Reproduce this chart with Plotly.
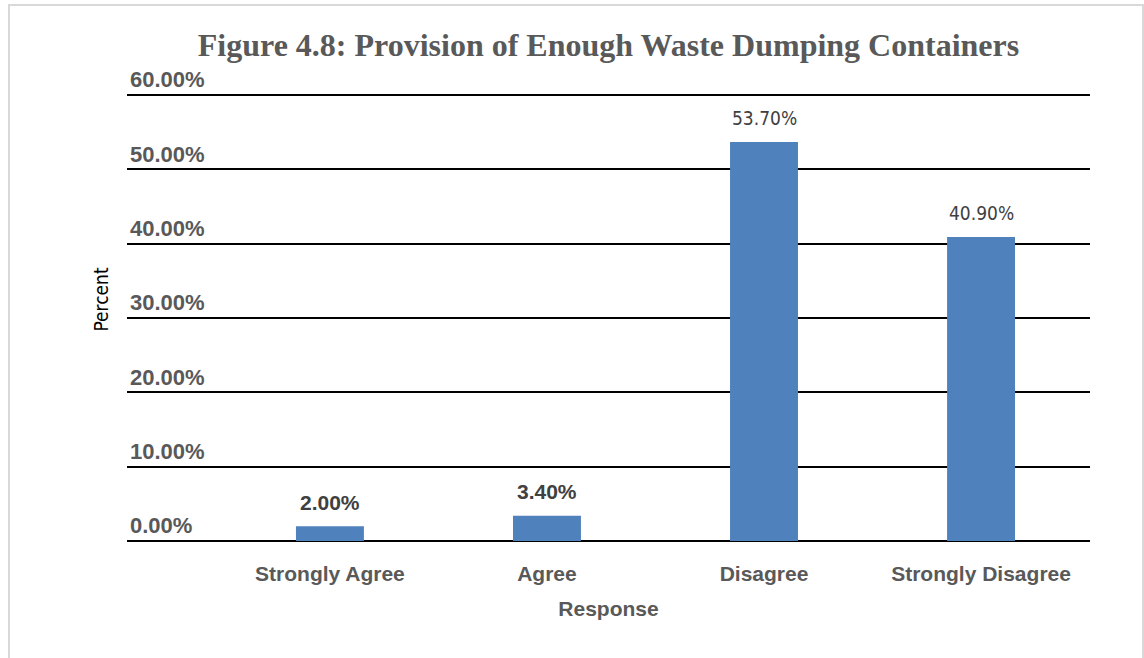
import plotly.graph_objects as go

# Survey responses on the provision of enough waste dumping containers
responses = ["Strongly Agree", "Agree", "Disagree", "Strongly Disagree"]
percent = [2.00, 3.40, 53.70, 40.90]
y_ticks = [0, 10, 20, 30, 40, 50, 60]

W, H = 1144, 658
L, R, T, B = 127, 54, 58, 117
plot_w = W - L - R
plot_h = H - T - B


def px_x(p):
    return (p - L) / plot_w


def px_y(p):
    return (H - B - p) / plot_h


GREY = "#595959"
DARK = "#404040"
BLUE = "#4F81BD"
NARROW = "Liberation Sans Narrow, Arial Narrow, DejaVu Sans Condensed, sans-serif"
SANS = "Liberation Sans, Arial, sans-serif"

fig = go.Figure(
    go.Bar(
        x=responses,
        y=percent,
        width=0.313,
        marker=dict(color=BLUE, line=dict(width=0)),
        hovertemplate="%{x}: %{y:.2f}%<extra></extra>",
    )
)

# value labels above each bar
label_fonts = [
    dict(family=SANS, size=21, color=DARK, weight="bold"),
    dict(family=SANS, size=21, color=DARK, weight="bold"),
    dict(family=NARROW, size=19, color=DARK),
    dict(family=NARROW, size=19, color=DARK),
]
for cat, val, f in zip(responses, percent, label_fonts):
    fig.add_annotation(
        x=cat, y=val, text=f"{val:.2f}%", showarrow=False,
        xref="x", yref="y", yanchor="middle", yshift=24, font=f,
    )

# light frame around the chart
fig.add_shape(
    type="rect", xref="paper", yref="paper",
    x0=px_x(9), x1=px_x(1143), y0=px_y(660), y1=px_y(5),
    line=dict(color="#d9d9d9", width=2), fillcolor="rgba(0,0,0,0)", layer="below",
)

fig.update_layout(
    width=W, height=H,
    margin=dict(l=L, r=R, t=T, b=B, pad=0),
    paper_bgcolor="white", plot_bgcolor="white",
    showlegend=False,
    title=dict(
        text="<b>Figure 4.8: Provision of Enough Waste Dumping Containers</b>",
        font=dict(family="Liberation Serif, Times New Roman, serif", size=32, color=GREY),
        x=0.5, xref="paper", xanchor="center",
        y=1 - 45 / H, yref="container", yanchor="middle",
    ),
    xaxis=dict(
        type="category",
        range=[-0.935, 3.502],
        showgrid=False, zeroline=False, showline=False,
        ticks="", ticklabelstandoff=18,
        tickfont=dict(family=SANS, size=21, color=GREY, weight="bold"),
        title=dict(text="Response", standoff=17,
                   font=dict(family=SANS, size=21, color=GREY, weight="bold")),
    ),
    yaxis=dict(
        range=[0, 65],
        tickvals=y_ticks,
        ticktext=[f"{v:.2f}%" for v in y_ticks],
        ticklabelposition="inside top",
        showgrid=True, gridcolor="black", gridwidth=2,
        zeroline=True, zerolinecolor="black", zerolinewidth=2,
        showline=False, ticks="",
        tickfont=dict(family=SANS, size=22, color=GREY, weight="bold"),
        title=dict(text="Percent", standoff=16,
                   font=dict(family=NARROW, size=19, color="black")),
    ),
)

fig.write_html("out.html")
